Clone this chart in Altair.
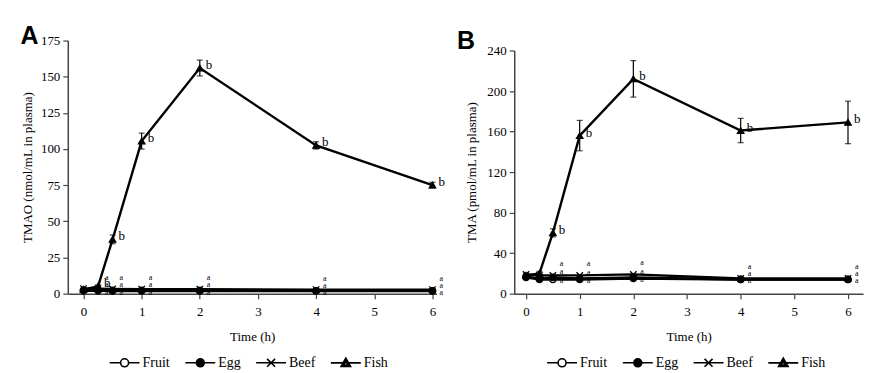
import altair as alt
import pandas as pd

times = [0, 0.25, 0.5, 1, 2, 4, 6]
series_names = ["Fruit", "Egg", "Beef", "Fish"]

# Panel A: TMAO (nmol/mL in plasma)
fruit_a = [2.0, 2.0, 1.8, 1.8, 1.8, 1.8, 1.8]
egg_a = [2.5, 2.5, 2.2, 2.2, 2.2, 2.0, 2.0]
beef_a = [3.5, 3.5, 3.2, 3.0, 3.0, 2.8, 2.8]
fish_a = [3.0, 5.0, 37.5, 105.5, 156.0, 102.5, 75.0]
fish_a_err = [0.5, 1.0, 3.0, 5.5, 5.5, 2.5, 2.0]
letters_a = ["", "b", "b", "b", "b", "b", "b"]
lettersa_a = ["", "a", "a", "a", "a", "a", "a"]

# Panel B: TMA (pmol/mL in plasma)
fruit_b = [16, 14, 14, 14, 15, 14, 14]
egg_b = [17, 15, 16, 15, 16, 14, 14]
beef_b = [19, 18, 18, 18, 19, 15, 15]
fish_b = [18, 20, 60, 156, 212, 161, 169]
fish_b_err = [2, 2, 4, 15, 18, 12, 21]
letters_b = ["", "", "b", "b", "b", "b", "b"]
lettersa_b = ["", "", "a", "a", "a", "a", "a"]

SERIF = "Liberation Serif"


def build_df(fruit, egg, beef, fish, fish_err, letters_fish, letters_other):
    rows = []
    for name, vals in zip(series_names, [fruit, egg, beef, fish]):
        for i, t in enumerate(times):
            err = fish_err[i] if name == "Fish" else 0
            rows.append({
                "time": t, "series": name, "value": vals[i],
                "lo": vals[i] - err, "hi": vals[i] + err,
                "letter": letters_fish[i] if name == "Fish" else letters_other[i],
            })
    return pd.DataFrame(rows)


# legend glyphs: line stub + marker (filled markers drawn as nested outlines)
CIRC = "M-{r},0A{r},{r} 0 1,0 {r},0A{r},{r} 0 1,0 -{r},0Z"
legend_paths = [
    "M-3.75,0H-1M1,0H3.75" + CIRC.format(r=1),
    "M-3.75,0H-1M1,0H3.75" + CIRC.format(r=1) + CIRC.format(r=0.6) + CIRC.format(r=0.2),
    "M-3.75,0H3.75M-1,-1L1,1M-1,1L1,-1",
    "M-3.75,0H3.75M0,-1.2L1.2,0.9H-1.2ZM0,-0.5L0.6,0.55H-0.6Z",
]
point_shapes = ["circle", "circle", "M-1,-1L1,1M-1,1L1,-1", "triangle-up"]
fills = ["white", "black", "black", "black"]


def panel(df, ydomain, yvalues, ytitle, label, xdomain, width, yrange, legx, legy,
          title_dx, ytitle_pad):
    xenc = alt.X("time:Q", scale=alt.Scale(domain=xdomain, nice=False, zero=False),
                 axis=alt.Axis(values=[0, 1, 2, 3, 4, 5, 6], format="d", title="Time (h)"))
    yscale = alt.Scale(domain=ydomain, nice=False, range=yrange)
    yaxis = alt.Axis(values=yvalues, title=ytitle, titlePadding=ytitle_pad)
    yenc = alt.Y("value:Q", scale=yscale, axis=yaxis)
    base = alt.Chart(df)
    lines = base.mark_line(color="black", strokeWidth=2.4).encode(
        x=xenc, y=yenc, detail="series:N")
    fish = base.transform_filter(alt.datum.series == "Fish")
    rule = fish.mark_rule(color="black", strokeWidth=1.2).encode(
        x=xenc, y=alt.Y("lo:Q", scale=yscale, axis=yaxis), y2="hi:Q")
    tick_lo = fish.mark_tick(color="black", orient="horizontal", size=6, thickness=1.2).encode(
        x=xenc, y=alt.Y("lo:Q", scale=yscale, axis=yaxis))
    tick_hi = fish.mark_tick(color="black", orient="horizontal", size=6, thickness=1.2).encode(
        x=xenc, y=alt.Y("hi:Q", scale=yscale, axis=yaxis))
    pts = base.mark_point(stroke="black", strokeWidth=1.3, size=42, opacity=1).encode(
        x=xenc, y=yenc,
        shape=alt.Shape("series:N", scale=alt.Scale(domain=series_names, range=point_shapes), legend=None),
        fill=alt.Fill("series:N", scale=alt.Scale(domain=series_names, range=fills), legend=None),
    )
    txt_b = fish.mark_text(align="left", dx=6, dy=-3, font=SERIF, fontSize=13, color="black").encode(
        x=xenc, y=yenc, text="letter:N")
    a_layers = []
    for name, dy in [("Beef", -11), ("Egg", -5), ("Fruit", 2)]:
        a_layers.append(
            base.transform_filter(alt.datum.series == name).mark_text(
                align="left", dx=7, dy=dy, font=SERIF, fontSize=8, color="black").encode(
                x=xenc, y=yenc, text="letter:N"))
    leg = alt.Legend(title=None, orient="none", direction="horizontal",
                     legendX=legx, legendY=legy, symbolSize=64,
                     symbolStrokeWidth=1.6, symbolStrokeColor="black",
                     symbolOffset=11, labelOffset=11, columnPadding=11,
                     labelFont=SERIF, labelFontSize=14, labelColor="black")
    legend_layer = base.transform_filter("false").mark_point(
        filled=False, color="black", strokeWidth=1.6, opacity=1).encode(
        shape=alt.Shape("series:N", scale=alt.Scale(domain=series_names, range=legend_paths), legend=leg),
    )
    layers = [lines, rule, tick_lo, tick_hi, pts, txt_b] + a_layers + [legend_layer]
    return alt.layer(*layers).resolve_scale(shape="independent", fill="independent").properties(
        width=width, height=254,
        title=alt.TitleParams(label, anchor="start", frame="bounds", font="Liberation Sans",
                              fontSize=25, fontWeight="bold", color="black", dx=title_dx, offset=-14),
    )


df_a = build_df(fruit_a, egg_a, beef_a, fish_a, fish_a_err, letters_a, lettersa_a)
df_b = build_df(fruit_b, egg_b, beef_b, fish_b, fish_b_err, letters_b, lettersa_b)

panel_a = panel(df_a, [0, 175], [0, 25, 50, 75, 100, 125, 150, 175],
                "TMAO (nmol/mL in plasma)", "A", [-0.27, 6.07], 370, [254, 0], 39, 316, -1, 6)
panel_b = panel(df_b, [0, 240], [0, 40, 80, 120, 160, 200, 240],
                "TMA (pmol/mL in plasma)", "B", [-0.22, 6.28], 350, [254, 10], 30, 316, -9, 8)

chart = alt.hconcat(panel_a, panel_b, spacing=78, bounds="flush").configure(
    padding={"left": 12, "top": 15, "right": 5, "bottom": 5}
).configure_view(stroke=None).configure_axis(
    grid=False, labelFont=SERIF, labelFontSize=13, labelColor="black",
    titleFont=SERIF, titleFontSize=13, titleFontWeight="normal", titleColor="black",
    domainColor="#444", domainWidth=1.5, tickColor="#444", tickSize=5, tickWidth=1.2,
    labelPadding=3,
).configure_axisX(labelPadding=7, titlePadding=12)

chart.save("out.html", embed_options={"renderer": "svg", "actions": False})
